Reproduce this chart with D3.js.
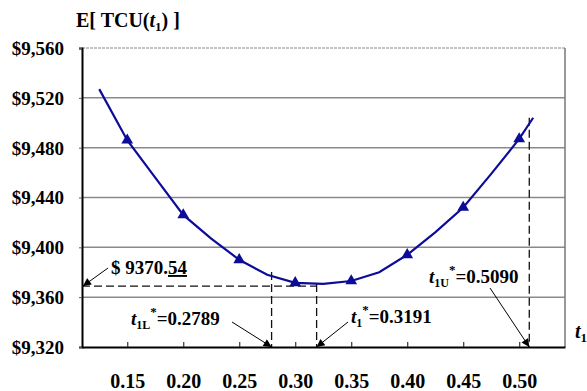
<!DOCTYPE html>
<html>
<head>
<meta charset="utf-8">
<script src="https://cdn.jsdelivr.net/npm/d3@7"></script>
<style>
  body { margin: 0; background: #fff; }
  svg text { font-family: "Liberation Serif", "Times New Roman", serif; font-weight: bold; fill: #000; }
</style>
</head>
<body>
<div id="chart"></div>
<script>
// curve E[TCU(t1)] sampled along t1
const tValues = [0.125, 0.15, 0.175, 0.2, 0.225, 0.25, 0.275, 0.3, 0.325, 0.35, 0.375, 0.4, 0.425, 0.45, 0.475, 0.5, 0.5125];
const costValues = [9527, 9486, 9456, 9426, 9407, 9390, 9378, 9371.5, 9370.7, 9373, 9380, 9394, 9412, 9432, 9459, 9487, 9504];
// points that carry a triangle marker
const markerT = [0.15, 0.2, 0.25, 0.3, 0.35, 0.4, 0.45, 0.5];
const xTicks = [0.15, 0.2, 0.25, 0.3, 0.35, 0.4, 0.45, 0.5];
const yTicks = [9320, 9360, 9400, 9440, 9480, 9520, 9560];
const minCost = 9370.54;
const tLower = 0.2789, tOpt = 0.3191, tUpper = 0.5090;

const width = 587, height = 391;
const margin = { top: 48, right: 22, bottom: 44, left: 82 };

const svg = d3.select('#chart').append('svg')
  .attr('width', width)
  .attr('height', height);

const x = d3.scaleLinear().domain([0.1096, 0.5409]).range([margin.left, width - margin.right]);
const y = d3.scaleLinear().domain([9320, 9560]).range([height - margin.bottom, margin.top]);
const curveAt = d3.scaleLinear().domain(tValues).range(costValues);

const defs = svg.append('defs');
defs.append('marker')
  .attr('id', 'arrow')
  .attr('viewBox', '0 0 10 10')
  .attr('refX', 10).attr('refY', 5)
  .attr('markerWidth', 12).attr('markerHeight', 8)
  .attr('markerUnits', 'userSpaceOnUse')
  .attr('orient', 'auto')
  .append('path').attr('d', 'M0,0L10,5L0,10z').attr('fill', '#000');

// Gridlines
svg.append('g').selectAll('line')
  .data(yTicks.filter(d => d > 9320 && d < 9560))
  .join('line')
  .attr('x1', x.range()[0]).attr('x2', x.range()[1])
  .attr('y1', d => y(d)).attr('y2', d => y(d))
  .attr('stroke', '#8a8a8a').attr('stroke-width', 1.5);

// top & right border
svg.append('line')
  .attr('x1', x.range()[0]).attr('x2', x.range()[1])
  .attr('y1', y(9560)).attr('y2', y(9560))
  .attr('stroke', '#888').attr('stroke-width', 1.2).attr('stroke-dasharray', '3,1');
svg.append('line')
  .attr('x1', x.range()[1]).attr('x2', x.range()[1])
  .attr('y1', y(9560)).attr('y2', y(9320))
  .attr('stroke', '#777').attr('stroke-width', 1.5);

// Axes
const yAxis = svg.append('g')
  .attr('transform', `translate(${margin.left},0)`)
  .call(d3.axisLeft(y).tickValues(yTicks).tickSize(3).tickPadding(15)
    .tickFormat(d => '$' + d3.format(',')(d)));
yAxis.select('.domain').attr('stroke', '#000').attr('stroke-width', 2);
yAxis.selectAll('.tick line').attr('stroke', '#555');
yAxis.selectAll('.tick text').attr('font-size', 19).attr('font-family', null).attr('dy', '0.34em');

const xAxis = svg.append('g')
  .attr('transform', `translate(0,${height - margin.bottom})`)
  .call(d3.axisBottom(x).tickValues(xTicks).tickSizeInner(-5).tickSizeOuter(0).tickPadding(0)
    .tickFormat(d3.format('.2f')));
xAxis.select('.domain').attr('stroke', '#000').attr('stroke-width', 2);
xAxis.selectAll('.tick line').attr('stroke', '#333').attr('stroke-width', 1.2);
xAxis.selectAll('.tick text').attr('font-size', 20).attr('font-family', null).attr('y', 41).attr('dy', 0);

// Dashed guides
const guides = svg.append('g').attr('stroke', '#111').attr('stroke-width', 1.3).attr('stroke-dasharray', '8,4').attr('fill', 'none');
guides.append('line')
  .attr('x1', x.range()[0]).attr('x2', x(tOpt))
  .attr('y1', y(minCost) + 2).attr('y2', y(minCost) + 2);
guides.append('line')
  .attr('x1', x(tLower)).attr('x2', x(tLower))
  .attr('y1', y(curveAt(tLower)) - 4).attr('y2', y(9320));
guides.append('line')
  .attr('x1', x(tOpt)).attr('x2', x(tOpt))
  .attr('y1', y(minCost)).attr('y2', y(9320));
guides.append('line')
  .attr('x1', x(tUpper)).attr('x2', x(tUpper))
  .attr('y1', y(costValues[costValues.length - 1])).attr('y2', y(9320));

// Curve
const data = tValues.map((t, i) => ({ t, v: costValues[i] }));
svg.append('path')
  .datum(data)
  .attr('fill', 'none')
  .attr('stroke', '#0c0c98')
  .attr('stroke-width', 2.2)
  .attr('d', d3.line().x(d => x(d.t)).y(d => y(d.v)));

svg.append('g').selectAll('path')
  .data(data.filter(d => markerT.includes(d.t)))
  .join('path')
  .attr('transform', d => `translate(${x(d.t)},${y(d.v)})`)
  .attr('d', d3.symbol(d3.symbolTriangle, 60))
  .attr('fill', '#0c0c98');

// Arrows
const arrows = svg.append('g').attr('stroke', '#000').attr('stroke-width', 1);
const axisY = y(9320);
arrows.append('line').attr('x1', 108).attr('y1', 268).attr('x2', x.range()[0] + 1).attr('y2', y(minCost) + 2).attr('marker-end', 'url(#arrow)');
arrows.append('line').attr('x1', 232).attr('y1', 322).attr('x2', x(tLower)).attr('y2', axisY).attr('marker-end', 'url(#arrow)');
arrows.append('line').attr('x1', 348).attr('y1', 322).attr('x2', x(tOpt)).attr('y2', axisY).attr('marker-end', 'url(#arrow)');
arrows.append('line').attr('x1', 490).attr('y1', 288).attr('x2', x(tUpper)).attr('y2', axisY).attr('marker-end', 'url(#arrow)');

// Labels
const minLabel = svg.append('text').attr('x', 111).attr('y', 274).attr('font-size', 19);
minLabel.append('tspan').text('$ 9370.');
minLabel.append('tspan').text('54').style('text-decoration', 'underline');

function tLabel(px, py, sub, value) {
  const txt = svg.append('text').attr('x', px).attr('y', py).attr('font-size', 19);
  txt.append('tspan').text('t').attr('font-style', 'italic');
  txt.append('tspan').text(sub).attr('font-size', 12).attr('dy', 4);
  txt.append('tspan').text('*').attr('font-size', 13).attr('dy', -13);
  txt.append('tspan').text('=' + d3.format('.4f')(value)).attr('dy', 9);
}
tLabel(131, 325, '1L', tLower);
tLabel(351, 323, '1', tOpt);
tLabel(429, 283, '1U', tUpper);

const title = svg.append('text').attr('x', 76).attr('y', 27).attr('font-size', 20);
title.append('tspan').text('E[ TCU(');
title.append('tspan').text('t').attr('font-style', 'italic');
title.append('tspan').text('1').attr('font-size', 13).attr('dy', 4);
title.append('tspan').text(') ]').attr('dy', -4);

const xTitle = svg.append('text').attr('x', 575).attr('y', 338).attr('font-size', 20);
xTitle.append('tspan').text('t').attr('font-style', 'italic');
xTitle.append('tspan').text('1').attr('font-size', 13).attr('dy', 4);
</script>
</body>
</html>
